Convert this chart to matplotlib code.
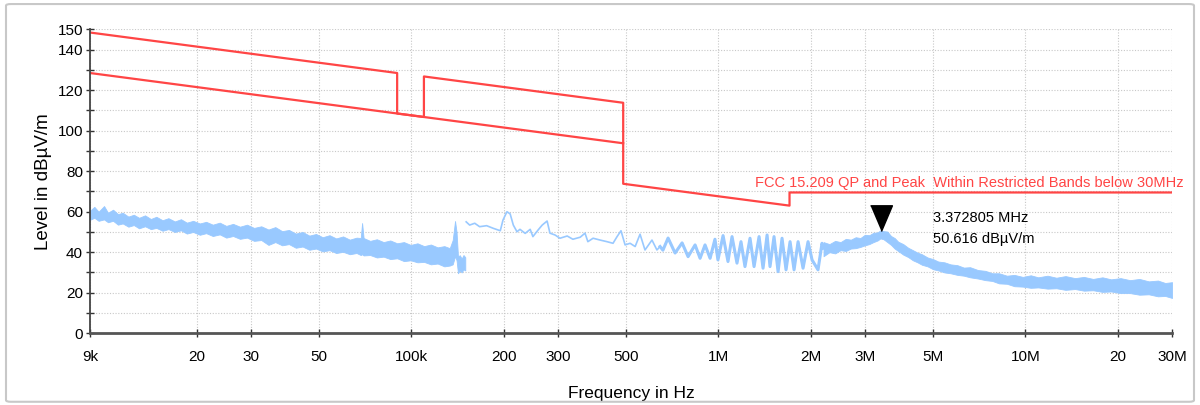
import matplotlib.pyplot as plt
from matplotlib import font_manager
from matplotlib.patches import FancyBboxPatch

# ---------------------------------------------------------------------------
# Data (frequency in Hz, level in dBuV/m)
# ---------------------------------------------------------------------------
# FCC 15.209 limit: peak path (with the 90-110 kHz restricted band) and QP path
peak_freq = [9e3, 90e3, 90e3, 110e3, 110e3, 490e3, 490e3, 1.705e6, 1.705e6, 30e6]
peak_level = [148.5, 128.5, 108.5, 106.8, 126.8, 113.8, 73.8, 63.0, 69.5, 69.5]
qp_freq = [9e3, 490e3]
qp_level = [128.5, 93.8]

# 9 kHz - 150 kHz sweep: dense noise, kept as upper / lower envelope (kHz)
band_a_khz = [9.0, 9.3, 9.6, 10.0, 10.3, 10.7, 11.1, 11.5, 12.0, 12.5, 13.0, 13.6,
              14.2, 14.8, 15.5, 16.2, 17.0, 17.8, 18.6, 19.5, 20.5, 21.5, 22.6, 23.8,
              25.0, 26.3, 27.7, 29.2, 30.8, 32.5, 34.3, 36.1, 38.0, 40.0, 42.1, 44.3,
              46.6, 49.0, 51.5, 54.2, 57.0, 60.0, 63.1, 66.4, 68.5, 69.2, 70.0, 73.5,
              77.3, 81.3, 85.5, 90.0, 94.7, 99.6, 104.8, 110.2, 115.9, 121.9, 128.2,
              133.5, 136.5, 138.9, 140.5, 142.0, 144.0, 146.0, 148.0, 150.0]
band_a_hi = [60.5, 62.4, 60.0, 62.8, 59.5, 61.0, 58.8, 59.5, 57.6, 58.5, 57.0, 58.2,
             56.4, 57.5, 55.8, 56.8, 55.2, 56.3, 54.6, 55.5, 54.2, 55.0, 53.6, 54.6,
             53.0, 54.0, 52.6, 53.6, 52.0, 52.8, 51.2, 52.4, 50.4, 51.0, 49.2, 50.0,
             48.2, 49.0, 47.4, 48.4, 46.8, 47.8, 46.2, 47.2, 47.0, 54.4, 47.0, 45.6,
             46.4, 45.0, 45.8, 44.4, 45.0, 43.6, 44.4, 43.0, 43.8, 42.4, 43.0,
             42.0, 46.0, 55.4, 50.0, 38.0, 38.5, 36.8, 38.6, 37.5]
band_a_lo = [56.0, 57.0, 55.5, 56.2, 54.8, 55.5, 53.6, 54.2, 52.6, 53.4, 51.8, 52.8,
             51.4, 52.0, 50.6, 51.4, 50.0, 50.8, 49.2, 50.0, 48.6, 49.4, 48.0, 48.8,
             47.2, 48.0, 46.6, 47.2, 45.6, 46.0, 43.6, 45.0, 43.4, 44.0, 42.2, 42.8,
             41.2, 41.8, 40.4, 41.0, 39.6, 40.2, 39.0, 39.6, 38.6, 39.0, 38.4, 38.6,
             37.4, 37.8, 36.6, 37.0, 35.6, 36.0, 35.0, 35.2, 34.0, 34.4, 33.0,
             33.4, 34.0, 38.0, 36.0, 29.6, 31.0, 30.0, 31.5, 31.0]

# 150 kHz - 2.2 MHz: single trace
trace_freq = [151e3, 155e3, 161e3, 167e3, 176e3, 185e3, 195e3, 199e3, 205e3, 210e3,
              215e3, 221e3, 226e3, 235e3, 244e3, 249e3, 259e3, 267e3, 277e3, 283e3,
              294e3, 305e3, 322e3, 336e3, 355e3, 368e3, 376e3, 391e3, 412e3, 434e3,
              454e3, 468e3, 482e3, 497e3, 516e3, 536e3, 556e3, 577e3, 608e3, 631e3,
              646e3, 660e3, 686e3, 723e3, 762e3, 797e3, 840e3, 872e3, 905e3, 940e3,
              975e3, 997e3, 1.036e6, 1.075e6, 1.108e6, 1.150e6, 1.185e6, 1.221e6,
              1.268e6, 1.307e6, 1.357e6, 1.398e6, 1.441e6, 1.473e6, 1.518e6, 1.565e6,
              1.612e6, 1.661e6, 1.712e6, 1.764e6, 1.818e6, 1.887e6, 1.959e6, 2.019e6,
              2.111e6, 2.175e6, 2.2e6]
trace_level = [55.0, 53.4, 54.3, 52.6, 53.1, 51.8, 50.6, 55.9, 60.0, 58.9,
               53.4, 50.1, 51.3, 49.3, 51.3, 47.7, 51.0, 53.4, 55.4, 49.4,
               48.5, 46.9, 48.0, 46.4, 47.4, 49.4, 45.2, 46.9, 46.0, 45.2,
               44.4, 47.7, 50.6, 43.6, 44.4, 42.8, 48.9, 41.1, 46.0, 41.1,
               42.8, 41.0, 47.0, 39.6, 44.6, 37.8, 43.6, 37.0, 43.6, 37.0,
               46.4, 36.2, 48.2, 35.4, 47.7, 34.6, 45.2, 32.9,
               46.9, 32.9, 47.7, 32.1, 48.5, 32.9, 47.7, 30.4,
               46.9, 31.3, 45.2, 31.3, 45.2, 32.1, 45.2, 36.2,
               31.3, 44.4, 42.0]
ringing_start = 40  # index of 646 kHz, where the trace gets busy

# 2.2 MHz - 30 MHz: dense noise again, upper / lower envelope (MHz)
band_b_mhz = [2.20, 2.30, 2.40, 2.50, 2.60, 2.70, 2.80, 2.90, 3.00, 3.10, 3.20, 3.30,
              3.37, 3.45, 3.55, 3.65, 3.75, 3.85, 4.0, 4.15, 4.3, 4.45, 4.6, 4.8, 5.0,
              5.2, 5.45, 5.7, 6.0, 6.3, 6.6, 7.0, 7.4, 7.8, 8.2, 8.7, 9.2, 9.8, 10.4,
              11.0, 11.8, 12.6, 13.5, 14.5, 15.5, 16.6, 17.8, 19.0, 20.4, 21.9, 23.5,
              25.2, 27.0, 28.5, 30.0]
band_b_hi = [45.0, 44.0, 45.6, 45.0, 46.6, 46.2, 47.4, 47.0, 48.6, 48.4, 49.6, 49.8,
             50.8, 50.4, 50.2, 48.0, 47.0, 45.2, 44.0, 42.2, 41.0, 39.8, 39.0, 37.4, 36.6,
             35.4, 35.0, 34.0, 33.6, 32.4, 32.6, 31.2, 30.8, 29.6, 29.6, 28.4, 28.8, 27.8,
             28.6, 27.6, 28.4, 27.4, 28.2, 27.2, 27.8, 26.8, 27.6, 26.6, 27.2, 26.2, 26.8,
             25.6, 26.0, 24.8, 25.2]
band_b_lo = [38.0, 40.0, 39.4, 41.0, 40.6, 41.8, 42.0, 42.6, 43.4, 44.0, 45.0, 45.8,
             46.8, 46.4, 45.0, 43.6, 41.8, 40.6, 38.8, 37.6, 36.0, 35.0, 33.8, 33.0, 31.6,
             31.0, 30.0, 29.6, 28.8, 28.4, 27.6, 27.0, 26.2, 25.8, 24.6, 24.4, 23.2, 23.0,
             22.4, 22.6, 22.0, 22.2, 21.4, 21.8, 21.0, 21.2, 20.4, 20.6, 19.8, 19.8, 19.0,
             19.2, 18.2, 18.4, 17.4]

# peak marker
marker_freq = 3.372805e6
marker_level = 50.616

xtick_vals = [9e3, 20e3, 30e3, 50e3, 100e3, 200e3, 300e3, 500e3,
              1e6, 2e6, 3e6, 5e6, 10e6, 20e6, 30e6]
xtick_labels = ['9k', '20', '30', '50', '100k', '200', '300', '500',
                '1M', '2M', '3M', '5M', '10M', '20', '30M']
ytick_vals = list(range(0, 151, 10))
ytick_labels = ['0', '', '20', '', '40', '', '60', '', '80', '', '100', '',
                '120', '', '140', '150']

# ---------------------------------------------------------------------------
# Fonts: Arial Narrow look-alike if present
# ---------------------------------------------------------------------------
installed = {f.name for f in font_manager.fontManager.ttflist}
narrow = 'Liberation Sans Narrow' if 'Liberation Sans Narrow' in installed else 'Liberation Sans'
plt.rcParams['font.family'] = ['Liberation Sans', 'DejaVu Sans']

trace_col = '#99c9ff'
limit_col = '#ff4545'

fig = plt.figure(figsize=(12, 4.05), dpi=100)
ax = fig.add_axes([0.075, 0.1773, 0.9017, 0.7499])

# outer light frame
fig.patches.append(FancyBboxPatch((0.005, 0.008), 0.99, 0.982,
                                  boxstyle='round,pad=0,rounding_size=0.004',
                                  transform=fig.transFigure, fill=False,
                                  edgecolor='#c8c8c8', linewidth=1.5))

# measurement trace
ax.fill_between([f * 1e3 for f in band_a_khz], band_a_lo, band_a_hi,
                color=trace_col, lw=0.6, edgecolor=trace_col)
ax.plot(trace_freq, trace_level, color=trace_col, lw=1.2)
ax.plot(trace_freq[ringing_start:], trace_level[ringing_start:], color=trace_col, lw=2.2)
ax.fill_between([f * 1e6 for f in band_b_mhz], band_b_lo, band_b_hi,
                color=trace_col, lw=0.6, edgecolor=trace_col)

# limit lines
ax.plot(qp_freq, qp_level, color=limit_col, lw=1.6)
ax.plot(peak_freq, peak_level, color=limit_col, lw=1.6)
ax.annotate('FCC 15.209 QP and Peak  Within Restricted Bands below 30MHz',
            xy=(30e6, 69.5), xytext=(8, 2), textcoords='offset points',
            ha='right', va='bottom', color=limit_col, fontsize=10.5,
            family=narrow, annotation_clip=False)

# marker (triangle with its tip on the peak)
tri = [(-0.85, 2.0), (0.85, 2.0), (0.0, 0.0)]
ax.plot([marker_freq], [marker_level], marker=tri, markersize=37,
        color='black', linestyle='none', clip_on=False)
ax.text(5.0e6, 57.1, f'{marker_freq / 1e6:.6f} MHz', fontsize=10.5, va='center')
ax.text(5.0e6, 46.5, f'{marker_level:.3f} dBµV/m', fontsize=10.5, va='center')

# axes styling
ax.set_xscale('log')
ax.set_xlim(9e3, 30e6)
ax.set_ylim(0, 150)
ax.set_xticks(xtick_vals)
ax.set_xticklabels(xtick_labels, family=narrow, fontsize=11)
ax.minorticks_off()
ax.set_yticks(ytick_vals)
ax.set_yticklabels(ytick_labels, family=narrow, fontsize=11)

ax.grid(True, color='#c8c8c8', linestyle=(0, (1, 1.5)), linewidth=0.8)
ax.set_axisbelow(True)
for side in ['top', 'right']:
    ax.spines[side].set_visible(False)
ax.spines['bottom'].set_color('#555555')
ax.spines['bottom'].set_linewidth(2)
ax.spines['left'].set_color('#444444')
ax.spines['left'].set_linewidth(1.3)
ax.tick_params(axis='both', direction='inout', length=6, width=1, color='#333333')
ax.tick_params(axis='x', pad=9)
ax.tick_params(axis='y', pad=2)

ax.set_xlabel('Frequency in Hz', fontsize=12.5, labelpad=16)
ax.set_ylabel('Level in dBµV/m', fontsize=13.5, labelpad=4)

fig.savefig('out.png', dpi=100)
